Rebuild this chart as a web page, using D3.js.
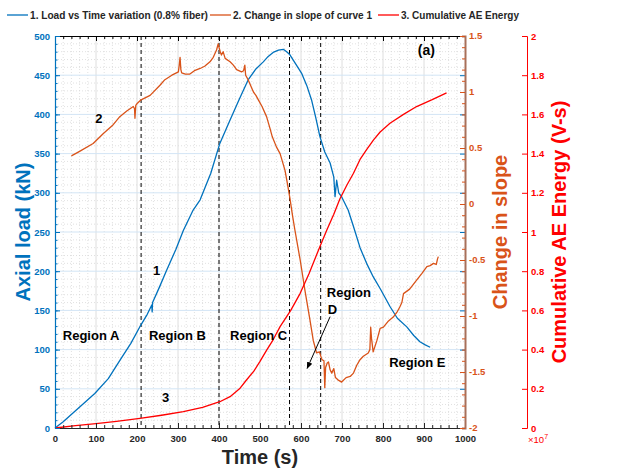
<!DOCTYPE html>
<html lang="en">
<head>
<meta charset="UTF-8" />
<title>Load vs time, change in slope and cumulative AE energy</title>
<style>
  body { margin: 0; background: #fff; }
  svg { font-family: "Liberation Sans", Arial, sans-serif; }
</style>
</head>
<body>
<svg id="chart" width="622" height="473"></svg>
<script src="https://d3js.org/d3.v7.min.js"></script>
<script>
// --- data ---
const loadTime = [0, 20, 50, 97, 130, 159, 185, 209, 225, 236, 237, 238, 255, 272, 295, 313, 337, 354, 380, 402, 427, 450, 471, 490, 508, 520, 532, 545, 557, 565, 573, 585, 602, 614, 626, 636, 646, 658, 671, 680, 683, 687, 692, 699, 715, 728, 744, 760, 776, 795, 817, 835, 858, 875, 890, 903, 915];
const loadKN = [0, 8, 22, 44, 63, 87, 108, 131, 145, 157, 148, 160, 180, 201, 228, 252, 278, 291, 325, 363, 393, 420, 444, 458, 467, 474, 479, 482, 483, 480, 476, 466, 452, 437, 418, 396, 372, 352, 338, 320, 295, 316, 300, 295, 278, 257, 230, 210, 193, 176, 155, 140, 129, 118, 110, 106, 103];

const slopeTime = [40, 60, 93, 118, 140, 158, 175, 191, 194, 195, 197, 201, 210, 232, 256, 268, 285, 301, 303, 305, 307, 309, 318, 329, 340, 354, 365, 378, 386, 394, 398, 400, 403, 406, 410, 415, 427, 435, 443, 455, 460, 463, 465, 471, 484, 490, 496, 505, 516, 524, 530, 540, 549, 561, 567, 573, 580, 585, 598, 610, 622, 630, 638, 645, 651, 656, 658, 660, 664, 667, 671, 675, 680, 684, 690, 699, 710, 720, 728, 736, 744, 752, 764, 768, 770, 772, 776, 785, 793, 801, 812, 825, 835, 841, 846, 850, 865, 882, 895, 907, 915, 923, 930, 933, 935];
const slopeValues = [0.43, 0.47, 0.54, 0.63, 0.70, 0.78, 0.83, 0.87, 0.85, 0.765, 0.88, 0.90, 0.93, 0.97, 1.06, 1.11, 1.15, 1.18, 1.24, 1.31, 1.20, 1.17, 1.16, 1.16, 1.19, 1.21, 1.23, 1.27, 1.31, 1.375, 1.43, 1.40, 1.36, 1.33, 1.36, 1.30, 1.27, 1.24, 1.20, 1.18, 1.19, 1.24, 1.15, 1.11, 1.00, 0.97, 0.93, 0.87, 0.78, 0.68, 0.60, 0.51, 0.45, 0.30, 0.18, 0.05, -0.12, -0.23, -0.50, -0.78, -1.04, -1.22, -1.33, -1.32, -1.39, -1.40, -1.64, -1.46, -1.42, -1.41, -1.48, -1.51, -1.47, -1.55, -1.57, -1.59, -1.55, -1.54, -1.51, -1.44, -1.39, -1.36, -1.33, -1.30, -1.10, -1.20, -1.32, -1.22, -1.11, -1.10, -1.05, -1.01, -0.96, -0.92, -0.88, -0.80, -0.76, -0.68, -0.62, -0.56, -0.55, -0.53, -0.54, -0.49, -0.47];

const aeTime = [0, 50, 100, 150, 207, 260, 313, 360, 402, 427, 450, 467, 485, 500, 517, 532, 549, 575, 598, 620, 646, 663, 680, 695, 712, 728, 744, 760, 777, 793, 817, 850, 882, 920, 955];
const aeEnergy = [0, 0.012, 0.022, 0.034, 0.049, 0.065, 0.083, 0.105, 0.134, 0.16, 0.20, 0.245, 0.29, 0.34, 0.40, 0.45, 0.517, 0.60, 0.687, 0.79, 0.925, 1.01, 1.09, 1.17, 1.24, 1.30, 1.37, 1.42, 1.47, 1.51, 1.555, 1.60, 1.64, 1.675, 1.71];

const regionBounds = [210, 400, 572, 648];

const timeTicks = [0, 100, 200, 300, 400, 500, 600, 700, 800, 900, 1000];
const loadTicks = [0, 50, 100, 150, 200, 250, 300, 350, 400, 450, 500];
const slopeTicks = [-2, -1.5, -1, -0.5, 0, 0.5, 1, 1.5];
const aeTicks = [0, 0.2, 0.4, 0.6, 0.8, 1, 1.2, 1.4, 1.6, 1.8, 2];
const aeTickLabels = ["0", "0.2", "0.4", "0.6", "0.8", "1", "1.2", "1.4", "1.6", "1.8", "2"];

const legendLabels = ["1. Load vs Time variation (0.8% fiber)", "2. Change in slope of curve 1", "3. Cumulative AE Energy"];

// --- layout ---
const blue = "#0072BD", orange = "#D95319", red = "#FF0000", ink = "#262626";
const plotLeft = 55, plotRight = 465, plotTop = 36, plotBottom = 428, aeAxisX = 527;

const svg = d3.select("#chart");

const x = d3.scaleLinear().domain([0, 1000]).range([plotLeft, plotRight]);
const yLoad = d3.scaleLinear().domain([0, 500]).range([plotBottom, plotTop]);
const ySlope = d3.scaleLinear().domain([-2, 1.5]).range([plotBottom, plotTop]);
const yAE = d3.scaleLinear().domain([0, 2]).range([plotBottom, plotTop]);

// grid
const grid = svg.append("g");
grid.selectAll("line.vminor")
  .data(d3.range(20, 1000, 20).filter(d => d % 100 !== 0))
  .join("line")
  .attr("x1", d => x(d)).attr("x2", d => x(d))
  .attr("y1", plotTop).attr("y2", plotBottom)
  .attr("stroke", "#d4d4d4").attr("stroke-width", 0.7).attr("stroke-dasharray", "1,2");
grid.selectAll("line.hminor")
  .data(d3.range(10, 500, 10).filter(d => d % 50 !== 0))
  .join("line")
  .attr("x1", plotLeft).attr("x2", plotRight)
  .attr("y1", d => yLoad(d)).attr("y2", d => yLoad(d))
  .attr("stroke", "#d4d4d4").attr("stroke-width", 0.7).attr("stroke-dasharray", "1,2");
grid.selectAll("line.vmajor")
  .data(timeTicks.slice(1, -1))
  .join("line")
  .attr("x1", d => x(d)).attr("x2", d => x(d))
  .attr("y1", plotTop).attr("y2", plotBottom)
  .attr("stroke", "#dedede").attr("stroke-width", 1);
grid.selectAll("line.hmajor")
  .data(loadTicks.slice(1, -1))
  .join("line")
  .attr("x1", plotLeft).attr("x2", plotRight)
  .attr("y1", d => yLoad(d)).attr("y2", d => yLoad(d))
  .attr("stroke", "#d3e5f5").attr("stroke-width", 1);

// region boundaries
svg.append("g").selectAll("line")
  .data(regionBounds)
  .join("line")
  .attr("x1", d => x(d)).attr("x2", d => x(d))
  .attr("y1", plotTop).attr("y2", plotBottom)
  .attr("stroke", "#000").attr("stroke-width", 1).attr("stroke-dasharray", "4,3");

// curves
function drawSeries(ts, vs, yScale, color) {
  const pts = ts.map((t, i) => [t, vs[i]]);
  svg.append("path")
    .datum(pts)
    .attr("fill", "none")
    .attr("stroke", color)
    .attr("stroke-width", 1.3)
    .attr("stroke-linejoin", "round")
    .attr("d", d3.line().x(d => x(d[0])).y(d => yScale(d[1])));
}
drawSeries(loadTime, loadKN, yLoad, blue);
drawSeries(slopeTime, slopeValues, ySlope, orange);
drawSeries(aeTime, aeEnergy, yAE, red);

// axes
function styleAxis(g, color, fontSize) {
  g.selectAll("text").attr("fill", color).attr("font-weight", "bold").attr("font-size", fontSize)
    .attr("font-family", "Liberation Sans, Arial, sans-serif");
  g.selectAll("line").attr("stroke", color);
}

// top border with ticks
svg.append("g").attr("transform", `translate(0,${plotTop})`)
  .call(d3.axisTop(x).tickValues(d3.range(0, 1001, 20)).tickSize(-3).tickFormat(""))
  .call(g => { g.select(".domain").attr("stroke", "#000"); g.selectAll("line").attr("stroke", "#000"); });
svg.append("g").attr("transform", `translate(0,${plotTop})`)
  .call(d3.axisTop(x).tickValues(timeTicks).tickSize(-5).tickFormat(""))
  .call(g => { g.select(".domain").remove(); g.selectAll("line").attr("stroke", "#000"); });

// bottom axis
svg.append("g").attr("transform", `translate(0,${plotBottom})`)
  .call(d3.axisBottom(x).tickValues(d3.range(0, 1001, 20)).tickSize(-3).tickFormat(""))
  .call(g => { g.select(".domain").attr("stroke", ink); g.selectAll("line").attr("stroke", ink); });
svg.append("g").attr("transform", `translate(0,${plotBottom})`)
  .call(d3.axisBottom(x).tickValues(timeTicks).tickSize(-5).tickPadding(7).tickFormat(d3.format("d")))
  .call(g => g.select(".domain").remove())
  .call(g => styleAxis(g, ink, 9.5));

// left axis (load)
svg.append("g").attr("transform", `translate(${plotLeft},0)`)
  .call(d3.axisLeft(yLoad).tickValues(d3.range(0, 501, 10)).tickSize(-2.5).tickFormat(""))
  .call(g => { g.select(".domain").attr("stroke", blue).attr("stroke-width", 1.2); g.selectAll("line").attr("stroke", blue); });
svg.append("g").attr("transform", `translate(${plotLeft},0)`)
  .call(d3.axisLeft(yLoad).tickValues(loadTicks).tickSize(-5).tickPadding(5).tickFormat(d3.format("d")))
  .call(g => g.select(".domain").remove())
  .call(g => styleAxis(g, blue, 9.5));

// blue ticks mirrored on the right side
svg.append("g").attr("transform", `translate(${plotRight},0)`)
  .call(d3.axisRight(yLoad).tickValues(loadTicks).tickSize(-5).tickFormat(""))
  .call(g => { g.select(".domain").remove(); g.selectAll("line").attr("stroke", blue); });

// right axis (slope)
svg.append("g").attr("transform", `translate(${plotRight},0)`)
  .call(d3.axisRight(ySlope).tickValues(d3.range(-20, 16).map(d => d / 10)).tickSize(-3).tickFormat(""))
  .call(g => { g.select(".domain").attr("stroke", "#a8705a").attr("stroke-width", 2); g.selectAll("line").attr("stroke", orange); });
svg.append("g").attr("transform", `translate(${plotRight},0)`)
  .call(d3.axisRight(ySlope).tickValues(slopeTicks).tickSize(-5).tickPadding(4).tickFormat(d => String(d)))
  .call(g => g.select(".domain").remove())
  .call(g => styleAxis(g, orange, 9.5))
  .call(g => g.selectAll("text").attr("dy", "0.28em"));

// offset right axis (AE energy)
svg.append("g").attr("transform", `translate(${aeAxisX},0)`)
  .call(d3.axisRight(yAE).tickValues(aeTicks).tickSize(-5).tickPadding(4).tickFormat((d, i) => aeTickLabels[i]))
  .call(g => g.select(".domain").attr("stroke", red))
  .call(g => styleAxis(g, red, 9.5));
const expo = svg.append("text")
  .attr("x", aeAxisX + 1).attr("y", plotBottom + 15)
  .attr("fill", red).attr("font-size", 9.5);
expo.append("tspan").text("\u00d710");
expo.append("tspan").attr("dy", -4).attr("font-size", 7).text("7");

// axis titles
svg.append("text")
  .attr("transform", `translate(30,${(plotTop + plotBottom) / 2}) rotate(-90)`)
  .attr("text-anchor", "middle").attr("font-weight", "bold").attr("font-size", 20)
  .attr("fill", blue).text("Axial load (kN)");
svg.append("text")
  .attr("transform", `translate(507,${(plotTop + plotBottom) / 2}) rotate(-90)`)
  .attr("text-anchor", "middle").attr("font-weight", "bold").attr("font-size", 20)
  .attr("fill", orange).text("Change in slope");
svg.append("text")
  .attr("transform", `translate(566,${(plotTop + plotBottom) / 2}) rotate(-90)`)
  .attr("text-anchor", "middle").attr("font-weight", "bold").attr("font-size", 20)
  .attr("fill", red).text("Cumulative AE Energy (V-s)");
svg.append("text")
  .attr("x", (plotLeft + plotRight) / 2).attr("y", 464)
  .attr("text-anchor", "middle").attr("font-weight", "bold").attr("font-size", 20)
  .attr("fill", ink).text("Time (s)");

// annotations (placed in data coordinates)
const notes = [
  { t: 885, L: 476, text: "(a)", size: 14 },
  { t: 98, L: 389, text: "2", size: 13 },
  { t: 239, L: 195, text: "1", size: 13 },
  { t: 261, L: 33, text: "3", size: 13 },
  { t: 19, L: 112, text: "Region A", size: 13 },
  { t: 229, L: 112, text: "Region B", size: 13 },
  { t: 427, L: 112, text: "Region C", size: 13 },
  { t: 663, L: 167, text: "Region", size: 13 },
  { t: 665, L: 145, text: "D", size: 13 },
  { t: 815, L: 78, text: "Region E", size: 13 }
];
svg.append("g").selectAll("text")
  .data(notes)
  .join("text")
  .attr("x", d => x(d.t)).attr("y", d => yLoad(d.L))
  .attr("font-weight", "bold").attr("font-size", d => d.size)
  .attr("fill", "#000").text(d => d.text);

svg.append("defs").append("marker")
  .attr("id", "arrow").attr("viewBox", "0 0 10 10")
  .attr("refX", 9).attr("refY", 5)
  .attr("markerWidth", 7).attr("markerHeight", 7)
  .attr("orient", "auto")
  .append("path").attr("d", "M0,1 L10,5 L0,9 z").attr("fill", "#000");
svg.append("line")
  .attr("x1", x(671)).attr("y1", yLoad(142))
  .attr("x2", x(615)).attr("y2", yLoad(76))
  .attr("stroke", "#000").attr("stroke-width", 1)
  .attr("marker-end", "url(#arrow)");

// legend
const legendX = [7, 210, 378];
const legendTextWidth = [178, 139, 118];
const legend = svg.append("g").selectAll("g")
  .data(legendLabels)
  .join("g")
  .attr("transform", (d, i) => `translate(${legendX[i]},15)`);
legend.append("line")
  .attr("x1", 0).attr("x2", 21).attr("y1", 0).attr("y2", 0)
  .attr("stroke", (d, i) => [blue, orange, red][i]).attr("stroke-width", 1.3);
legend.append("text")
  .attr("x", 23).attr("y", 3.8)
  .attr("font-size", 10.6).attr("font-weight", "bold").attr("fill", ink)
  .attr("textLength", (d, i) => legendTextWidth[i])
  .attr("lengthAdjust", "spacingAndGlyphs")
  .text(d => d);
</script>
</body>
</html>
